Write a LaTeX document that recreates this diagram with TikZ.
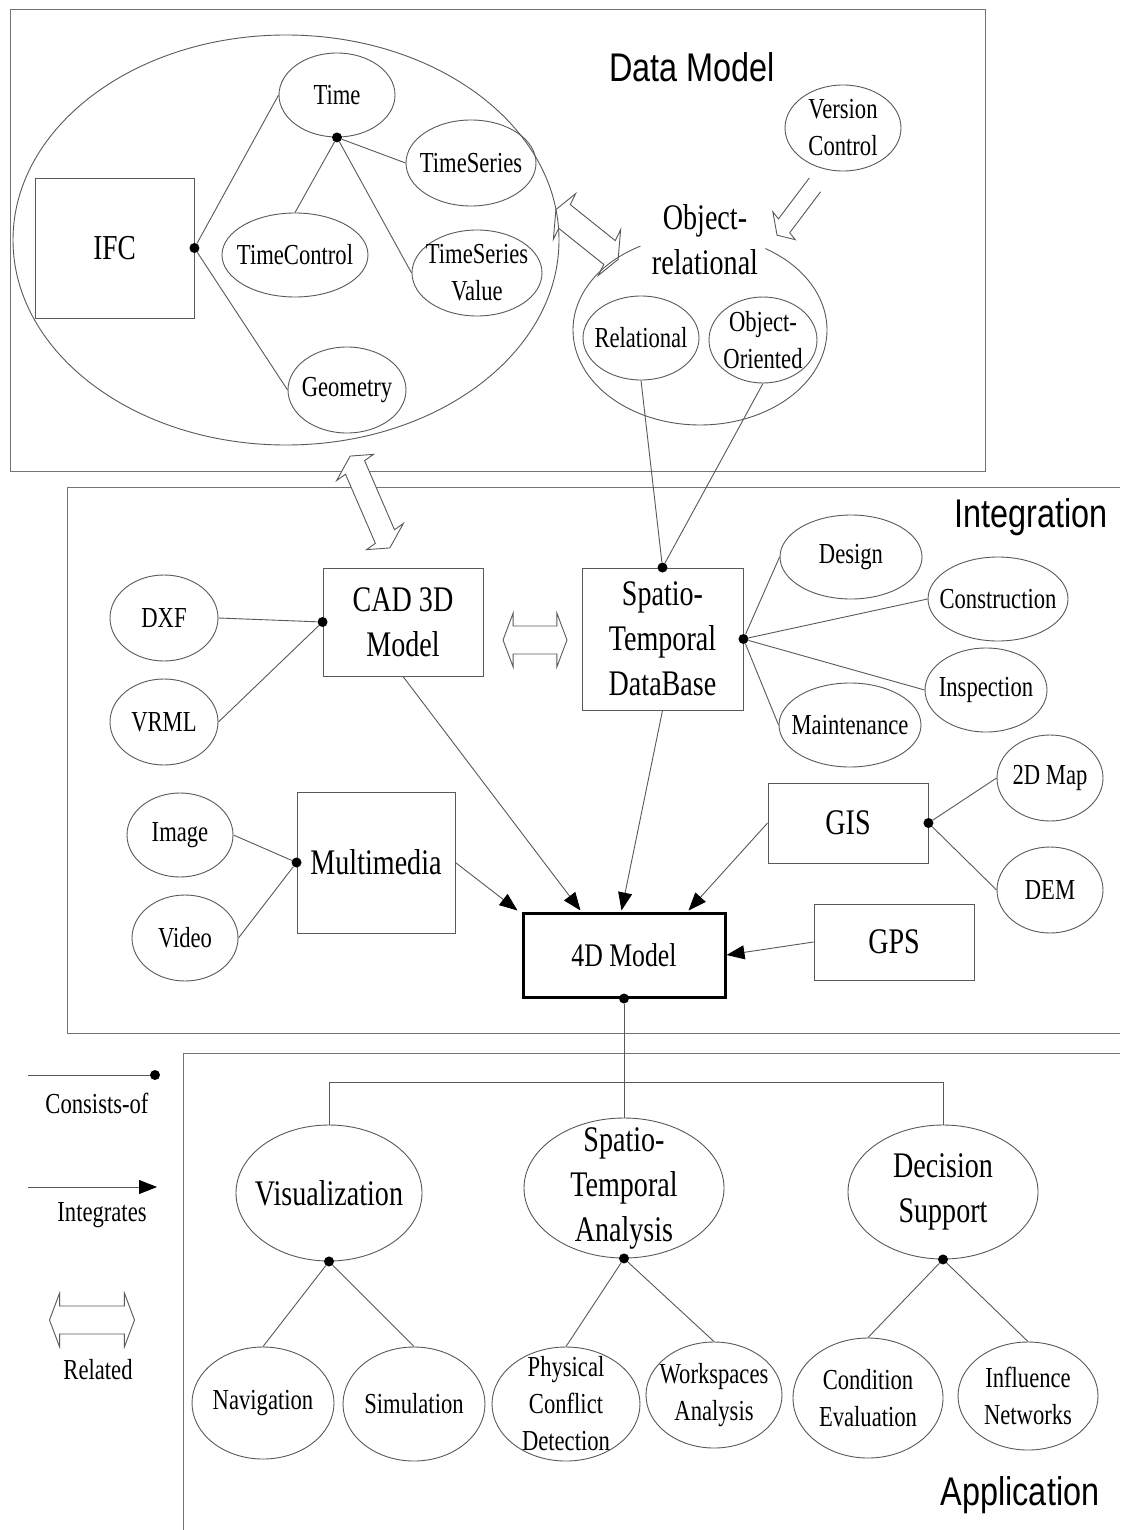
\documentclass[tikz,border=0pt]{standalone}
\usepackage{fontspec}
\setmainfont{Liberation Serif}[FakeStretch=0.78]
\newfontfamily\ttlfont{Liberation Sans}[FakeStretch=0.81]
\usetikzlibrary{shapes.geometric,arrows.meta,calc}
\definecolor{lc}{gray}{0.35}
\newcommand\fsa{\fontsize{29}{37}\selectfont}
\newcommand\fsb{\fontsize{36}{45}\selectfont}
\newcommand\fsc{\fontsize{34}{42}\selectfont}
\newcommand\ELn[7]{\node[el, minimum width=#4pt, minimum height=#5pt] (#1) at (#2,#3) {};
  \node[txt, font=#6] (#1-t) at (#1.center) {#7};}
\newcommand\dblarrow[5]{%
  \begin{scope}[shift={(#1,#2)},xscale=0.78,rotate=#3]
    \draw[lc, line width=0.9pt, fill=#5] ({-#4/2},0) -- ({-#4/2+13},27) -- ({-#4/2+13},14) -- ({#4/2-13},14) -- ({#4/2-13},27) -- ({#4/2},0) -- ({#4/2-13},-27) -- ({#4/2-13},-14) -- ({-#4/2+13},-14) -- ({-#4/2+13},-27) -- cycle;
  \end{scope}}
\newcommand\sglarrow[4]{%
  \begin{scope}[shift={(#1,#2)},xscale=0.78,rotate=#3]
    \draw[lc, line width=0.9pt] ({-#4/2},10) -- ({#4/2-13},10) -- ({#4/2-13},20) -- ({#4/2},0) -- ({#4/2-13},-20) -- ({#4/2-13},-10) -- ({-#4/2},-10);
  \end{scope}}
\tikzset{
  ln/.style={draw=lc, line width=0.9pt},
  el/.style={ellipse, draw=lc, line width=0.9pt, inner sep=0pt},
  bx/.style={rectangle, draw=lc, line width=0.9pt, inner sep=0pt, align=center, text=black},
  txt/.style={inner sep=0pt, align=center, text=black},
  dot/.style={circle, fill=black, inner sep=0pt, minimum size=10pt},
  arr/.style={ln, -{Triangle[length=18pt,width=14pt,color=black]}},
  frame/.style={draw=black!55, line width=1pt},
  ttl/.style={inner sep=0pt, text=black, font=\ttlfont\fontsize{40}{48}\selectfont},
}
\begin{document}
\begin{tikzpicture}[x=1pt,y=-1pt]
\useasboundingbox (0,0) rectangle (1120,1530);
\fill[white] (0,0) rectangle (1120,1530);

% ---------- frames ----------
\draw[frame] (10,10) rectangle (985,471);
\draw[frame] (1120,487) -- (67,487) -- (67,1033) -- (1120,1033);
\draw[frame] (1120,1053) -- (183,1053) -- (183,1530);

% ---------- Data Model ----------
\node[ttl] (tdm) at (692,67) {Data Model};
\node[el, minimum width=546pt, minimum height=410pt] (dmell) at (286,240) {};
\node[bx, minimum width=159pt, minimum height=140pt, font=\fontsize{35}{42}\selectfont] (ifc) at (114.5,248) {IFC};
\ELn{time}{337}{95}{116}{84}{\fsa}{Time}
\ELn{ts}{471}{163}{130}{86}{\fsa}{TimeSeries}
\ELn{tc}{295}{255}{146}{84}{\fsa}{TimeControl}
\ELn{tsv}{477}{273}{130}{86}{\fsa}{TimeSeries\\Value}
\ELn{geo}{347}{390}{118}{86}{\fsa}{Geometry}
\node[dot] (ifcd) at (ifc.east) {};
\node[dot] (timed) at (time.south) {};
\draw[ln] (ifcd) -- (time.west);
\draw[ln] (ifcd) -- (geo.west);
\draw[ln] (timed) -- (ts.west);
\draw[ln] (timed) -- (tc.north);
\draw[ln] (timed) -- (tsv.west);

\ELn{vc}{843}{128}{116}{86}{\fsa}{Version\\Control}
\node[txt, font=\fsb] (objrel) at (705,240) {Object-\\relational};
\draw[ln] plot[smooth, domain=118:419, samples=90] ({700+127*cos(\x)}, {330-95*sin(\x)});
\ELn{rel}{641}{338}{116}{84}{\fsa}{Relational}
\ELn{oo}{763}{340}{108}{86}{\fsa}{Object-\\Oriented}

\sglarrow{796}{210}{-134}{70}
\dblarrow{587}{234.5}{-32}{94}{none}
\dblarrow{370}{502}{-61}{105}{white}

% ---------- Integration ----------
\node[ttl] (tint) at (1031,517) {Integration};
\node[bx, minimum width=160pt, minimum height=108pt, font=\fsb] (cad) at (403,622) {CAD 3D\\Model};
\node[bx, minimum width=161pt, minimum height=142pt, font=\fsb] (stdb) at (662.5,639) {Spatio-\\Temporal\\DataBase};
\ELn{design}{851}{557}{142}{84}{\fsa}{Design}
\ELn{constr}{998}{599}{140}{84}{\fsa}{Construction}
\ELn{insp}{986}{690}{122}{84}{\fsa}{Inspection}
\ELn{maint}{850}{725}{142}{84}{\fsa}{Maintenance}
\ELn{dxf}{164}{618}{108}{86}{\fsa}{DXF}
\ELn{vrml}{164}{722}{108}{86}{\fsa}{VRML}
\ELn{img}{180}{835}{106}{84}{\fsa}{Image}
\ELn{vid}{185}{938}{106}{86}{\fsa}{Video}
\node[bx, minimum width=158pt, minimum height=141pt, font=\fsb] (mm) at (376,862.5) {Multimedia};
\node[rectangle, draw=black, line width=3pt, inner sep=0pt, minimum width=202pt, minimum height=84pt, font=\fontsize{33}{40}\selectfont] (fd) at (624,955) {4D Model};
\node[bx, minimum width=160pt, minimum height=80pt, font=\fsb] (gis) at (848,823) {GIS};
\ELn{map}{1050}{778}{106}{86}{\fsa}{2D Map}
\ELn{dem}{1050}{890}{106}{86}{\fsa}{DEM}
\node[bx, minimum width=160pt, minimum height=76pt, font=\fsb] (gps) at (894,942) {GPS};

\dblarrow{535}{640}{0}{82}{white}

\node[dot] (cadd) at (cad.west) {};
\node[dot] (stdbt) at (stdb.north) {};
\node[dot] (stdbr) at (stdb.east) {};
\node[dot] (mmd) at (mm.west) {};
\node[dot] (gisd) at (gis.east) {};
\draw[ln] (rel.south) -- (stdbt);
\draw[ln] (oo.south) -- (stdbt);
\draw[ln] (stdbr) -- (design.west);
\draw[ln] (stdbr) -- (constr.west);
\draw[ln] (stdbr) -- (insp.west);
\draw[ln] (stdbr) -- (maint.west);
\draw[ln] (dxf.east) -- (cadd);
\draw[ln] (vrml.east) -- (cadd);
\draw[ln] (img.east) -- (mmd);
\draw[ln] (vid.east) -- (mmd);
\draw[ln] (gisd) -- (map.west);
\draw[ln] (gisd) -- (dem.west);
\draw[arr] (mm.east) -- ([xshift=-4pt,yshift=1pt]fd.north west);
\draw[arr] (cad.south) -- ([xshift=59pt,yshift=1pt]fd.north west);
\draw[arr] (stdb.south) -- ([xshift=100pt,yshift=1pt]fd.north west);
\draw[arr] (gis.west) -- ([xshift=167pt,yshift=1pt]fd.north west);
\draw[arr] (gps.west) -- (fd.east);

% ---------- Application ----------
\node[ttl] (tapp) at (1020,1495) {Application};
\ELn{vis}{329}{1193}{186}{136}{\fsb}{Visualization}
\ELn{sta}{624}{1188}{200}{140}{\fsb}{Spatio-\\Temporal\\Analysis}
\ELn{ds}{943}{1192}{190}{134}{\fsb}{Decision\\Support}
\ELn{nav}{263}{1403}{142}{112}{\fsa}{Navigation}
\ELn{sim}{414}{1404}{142}{114}{\fsa}{Simulation}
\ELn{pcd}{566}{1404}{148}{114}{\fsa}{Physical\\Conflict\\Detection}
\ELn{wa}{714}{1395}{136}{106}{\fsa}{Workspaces\\Analysis}
\ELn{ce}{868}{1398}{150}{120}{\fsa}{Condition\\Evaluation}
\ELn{inf}{1028}{1396}{140}{108}{\fsa}{Influence\\Networks}
\node[dot] (fdd) at (fd.south) {};
\coordinate (bus) at (624,1082);
\draw[ln] (fdd) -- (sta.north);
\draw[ln] (vis.north) |- (bus) -| (ds.north);
\node[dot] (visd) at (vis.south) {};
\node[dot] (stad) at (sta.south) {};
\node[dot] (dsd) at (ds.south) {};
\draw[ln] (visd) -- (nav.north);
\draw[ln] (visd) -- (sim.north);
\draw[ln] (stad) -- (pcd.north);
\draw[ln] (stad) -- (wa.north);
\draw[ln] (dsd) -- (ce.north);
\draw[ln] (dsd) -- (inf.north);

% ---------- Legend ----------
\coordinate (l1a) at (28,1075);
\node[dot] (l1b) at (155,1075) {};
\draw[ln] (l1a) -- (l1b);
\node[txt, font=\fsa] (l1t) at (97,1103) {Consists-of};
\coordinate (l2a) at (28,1187);
\coordinate (l2b) at (157,1187);
\draw[arr] (l2a) -- (l2b);
\node[txt, font=\fsa] (l2t) at (102,1215) {Integrates};
\dblarrow{92}{1320}{0}{109}{white}
\node[txt, font=\fsa] (l3t) at (98,1370) {Related};
\end{tikzpicture}
\end{document}
